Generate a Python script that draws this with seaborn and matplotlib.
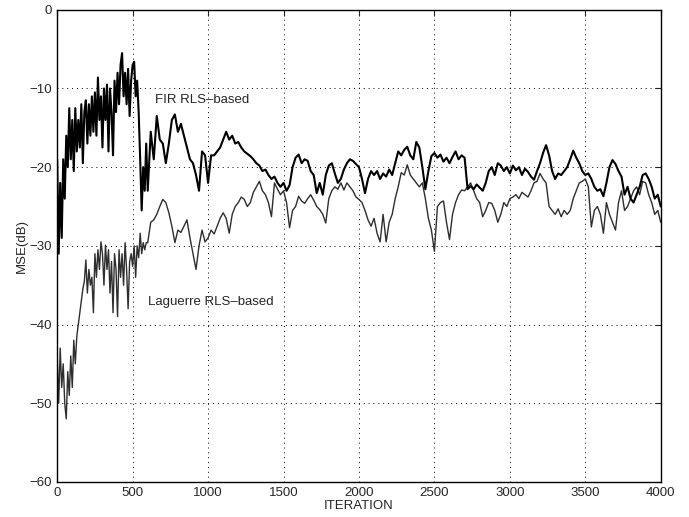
import numpy as np
import pandas as pd
import seaborn as sns
import matplotlib.pyplot as plt

# iteration grids: dense at the start, coarser afterwards
iter_early = np.arange(0, 600, 10)
iter_late = np.arange(600, 4001, 20)

# FIR RLS-based MSE (dB)
fir_early = [
    -19, -31, -22, -29, -19, -24, -16, -20, -12.5, -19,
    -14, -20.5, -12.5, -18, -14, -17.5, -12, -19.5, -13, -11.5,
    -17, -12, -16, -11, -15.5, -10.5, -16, -8.6, -14, -11,
    -17.5, -10, -14, -9.5, -18, -10, -13, -18.5, -9, -13,
    -8, -12, -7, -5.5, -11, -8, -12, -7.5, -13.5, -9,
    -7, -6.6, -11, -9, -13, -19, -25.5, -20, -23, -17,
]
fir_late = [
    -23, -15.5, -19, -13.5, -16.5, -17, -19.5, -17, -14, -13.3,
    -15.5, -14.5, -16, -17.5, -19, -19.5, -21, -23, -18, -18.5,
    -22, -18.5, -18.5, -18, -17.5, -16.5, -15.5, -16.5, -16, -17,
    -16.8, -17.5, -18, -18.3, -18.6, -19, -19.5, -19.8, -20.5, -20.3,
    -21, -21.5, -21.2, -22, -22.5, -22, -23, -22.3, -20, -18.8,
    -18.4, -19.5, -19, -19.2, -20.5, -21, -23.3, -22, -23.5, -21,
    -19.8, -19.5, -20.8, -22, -21.5, -20.3, -19.5, -19, -19.2, -19.6,
    -20, -21.5, -23.3, -21.5, -20.5, -21, -20.5, -21.5, -20.8, -21.2,
    -20.3, -21, -19.5, -18, -18.5, -17.8, -17.4, -18.5, -19, -16.8,
    -17.5, -20, -22.8, -20.5, -18.6, -18.2, -18.8, -18.4, -19.3, -18.8,
    -19.5, -18.7, -18, -19, -18.5, -18.8, -22.8, -22.4, -22.8, -22.2,
    -22.6, -23, -22, -20.5, -20, -21, -19.5, -19.8, -20.5, -20,
    -20.8, -19.8, -20.4, -20, -21, -20.2, -20.6, -21.2, -21.6, -20.5,
    -19.5, -18.2, -17.2, -18.5, -20.5, -21.5, -20.8, -21, -20.5, -20,
    -19, -17.9, -18.8, -19.5, -20.5, -21, -20.8, -21.5, -22.5, -23,
    -22.8, -23.7, -22, -20, -19.1, -19.6, -20.5, -21.2, -23.5, -22.5,
    -24, -24.5, -23.5, -22.5, -21, -20.8, -21.5, -22.5, -24, -23.5,
    -25,
]

# Laguerre RLS-based MSE (dB)
lag_early = [
    -44, -50, -43, -48, -45, -50, -52, -46, -49, -44,
    -48, -42, -45, -41.5, -40, -38.5, -37, -35.5, -34.5, -31.8,
    -36, -33, -35, -34, -38.5, -31, -34, -30.5, -33, -29.5,
    -31, -35, -29.9, -33, -30.5, -36, -32, -38.5, -31, -33,
    -39, -30.5, -34, -31, -35, -29.6, -33, -38, -32, -31,
    -32.6, -30, -34, -30, -31.5, -28.4, -31, -29.6, -30.5, -29.6,
]
lag_late = [
    -29.6, -27, -26.7, -26, -25, -24.1, -24.5, -25.8, -27.5, -29.6,
    -28, -28.3, -27.5, -26.7, -29, -31, -33, -30, -28, -29.5,
    -29, -28, -28.5, -27.5, -26.5, -25.8, -26.5, -28.4, -26, -25,
    -24.5, -23.8, -24.1, -25, -24.5, -23.2, -22.5, -21.8, -23, -23.5,
    -24.5, -26.3, -22, -22.8, -23.5, -23, -24.5, -27.7, -25.5, -25,
    -23.7, -24.3, -24.6, -24, -23.5, -24.2, -25, -25.4, -26, -27.1,
    -24, -23, -22.5, -22.8, -22, -22.9, -22, -22.5, -23, -23.8,
    -24.1, -24.5, -25.5, -26.7, -27.5, -26.5, -28.4, -29.5, -26, -29.5,
    -27, -26, -24, -22.5, -20.7, -21, -19.7, -21, -21.5, -22,
    -22.5, -22, -24, -26.5, -28, -30.7, -25, -24.5, -24.3, -27,
    -29.2, -26, -24.5, -23.5, -22.9, -23, -22.5, -22, -23, -24,
    -24.5, -26.3, -25.5, -24.5, -24.6, -25.5, -27, -26, -24.5, -25,
    -24, -23.8, -23.5, -24, -23.2, -23.5, -23.8, -23, -22, -21.8,
    -20.8, -21.5, -22, -25, -25.5, -26, -25.3, -26.3, -25.5, -26,
    -25.5, -24, -23, -22, -21.8, -21.5, -22.5, -27.6, -25.5, -25,
    -26, -28.4, -24.5, -26, -27, -28, -24.5, -23, -25.5, -25,
    -24, -23, -22.5, -23.5, -21.8, -22, -23.5, -24.5, -26, -25.5,
    -27,
]

iters = np.concatenate([iter_early, iter_late])
df = pd.DataFrame({
    "iteration": np.concatenate([iters, iters]),
    "mse": np.concatenate([fir_early, fir_late, lag_early, lag_late]),
    "method": ["FIR"] * len(iters) + ["Laguerre"] * len(iters),
})

sns.set_style("white")
plt.rcParams["font.family"] = ["Liberation Sans", "DejaVu Sans"]

fig = plt.figure(figsize=(6.89, 5.17), dpi=100)
ax = fig.add_axes([0.083, 0.068, 0.876, 0.913])

sns.lineplot(data=df[df.method == "Laguerre"], x="iteration", y="mse",
             color="#2e2e2e", linewidth=1.0, ax=ax, sort=False)
sns.lineplot(data=df[df.method == "FIR"], x="iteration", y="mse",
             color="black", linewidth=1.5, ax=ax, sort=False)

ax.set_xlim(0, 4000)
ax.set_ylim(-60, 0)
ax.set_xticks(np.arange(0, 4001, 500))
ax.set_yticks(np.arange(-60, 1, 10))
ax.grid(True, color="black", linestyle=(0, (1, 4)), linewidth=0.7)
ax.tick_params(direction="in", top=True, right=True, labelsize=9.5, length=4)
for s in ax.spines.values():
    s.set_linewidth(1.0)
    s.set_color("black")

ax.set_xlabel("ITERATION", fontsize=9.5, labelpad=1)
ax.set_ylabel("MSE(dB)", fontsize=9.5, labelpad=1)

ax.text(650, -11.4, "FIR RLS\u2013based", fontsize=9.5, va="center")
ax.text(603, -37.1, "Laguerre RLS\u2013based", fontsize=9.5, va="center")

plt.savefig("out.png", dpi=100)
plt.close(fig)
